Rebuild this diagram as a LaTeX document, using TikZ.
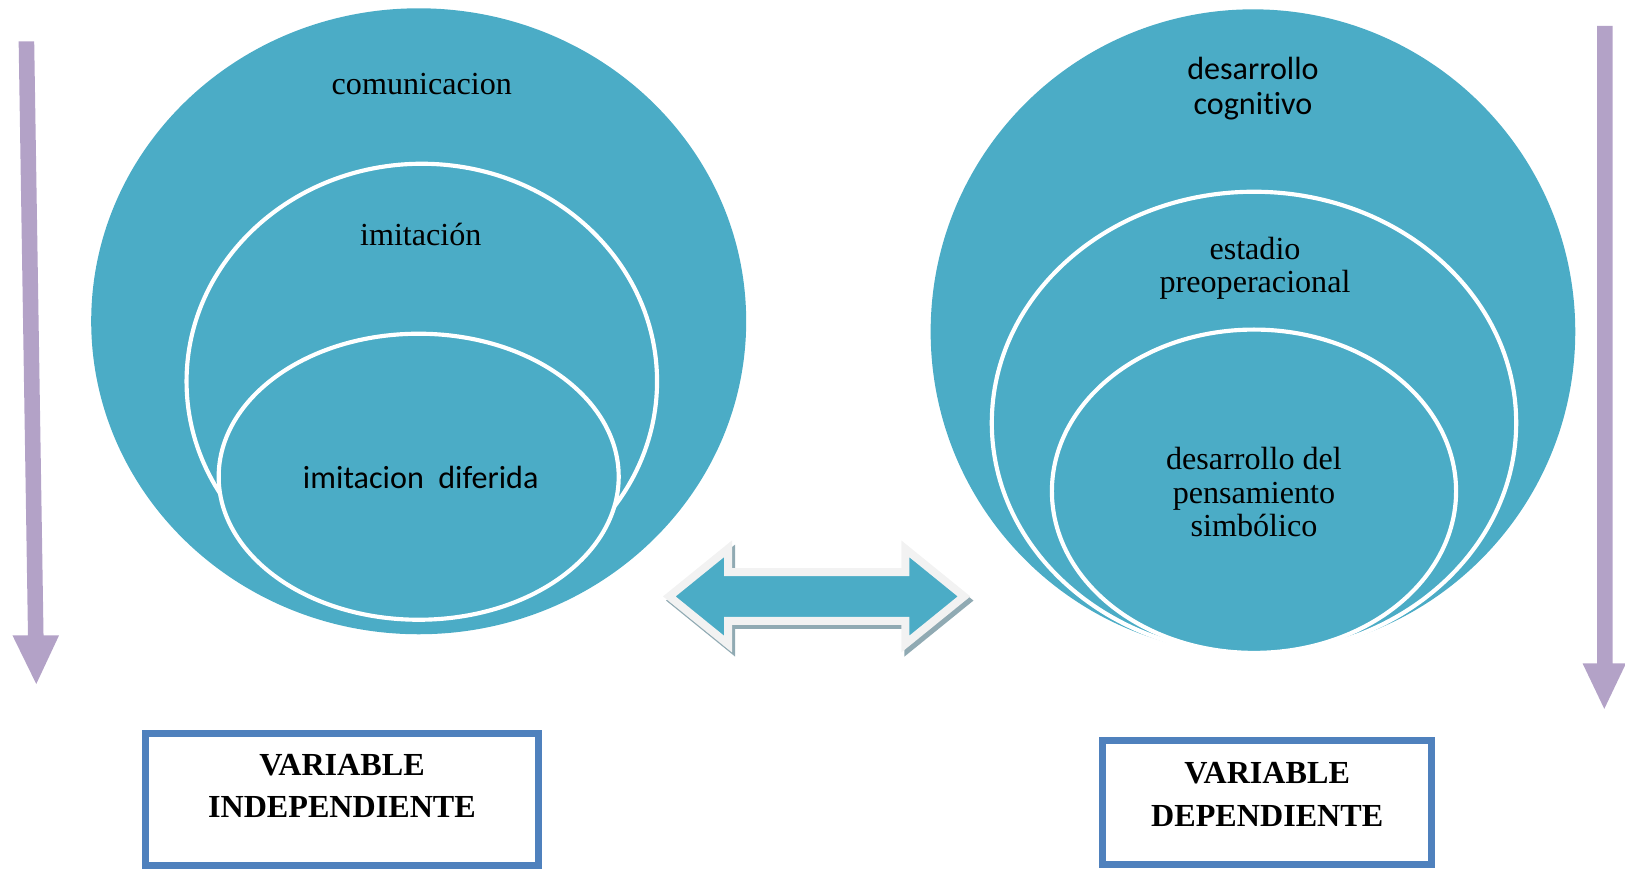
\documentclass[tikz,border=0pt]{standalone}
\usepackage{fontspec}
\setmainfont{Liberation Serif}
\newfontfamily\calibri[Ligatures=NoCommon]{Carlito}
\definecolor{tblue}{HTML}{4BACC6}
\definecolor{lav}{HTML}{B3A2C7}
\definecolor{boxblue}{HTML}{4F81BD}
\definecolor{arrline}{HTML}{F2F2F2}
\definecolor{arrshadow}{HTML}{90AAB3}
\begin{document}
\begin{tikzpicture}[x=0.5pt,y=-0.5pt,
  outerdisc/.style={fill=tblue},
  ring/.style={fill=tblue, draw=white, line width=2pt},
  lbl/.style={font=\fontsize{15.5}{16.25}\selectfont, align=center, inner sep=0pt, text=black},
  sanslbl/.style={font=\calibri\fontsize{15.5}{16.5}\selectfont, align=center, inner sep=0pt, text=black},
  varbox/.style={draw=boxblue, line width=3.25pt, fill=white},
  vartext/.style={font=\bfseries\fontsize{15.5}{20.5}\selectfont, align=center, inner sep=0pt},
  downarrow/.style={fill=lav},
  dblarrow/.style={fill=tblue, draw=arrline, line width=3.85pt, line join=miter},
  dblshadow/.style={fill=arrshadow, draw=arrshadow, line width=3.85pt, line join=miter}]
\useasboundingbox (0,0) rectangle (1568,841.4);

% left nested target
\path[outerdisc] (404,310) ellipse [x radius=316, y radius=302];
\path[ring] (407,368) ellipse [x radius=227, y radius=210];
\path[ring] (404,460) ellipse [x radius=193, y radius=138];

% right nested target
\path[outerdisc] (1209,320) ellipse [x radius=311, y radius=311];
\path[ring] (1210,408) ellipse [x radius=253, y radius=223];
\path[ring] (1210,474) ellipse [x radius=195, y radius=156];

% labels
\node[lbl] (com) at (407,81) {comunicacion};
\node[lbl] (imi) at (406,226) {imitación};
\node[sanslbl] (imd) at (406,461) {imitacion\ \ diferida};
\node[sanslbl] (dc) at (1209,85.5) {desarrollo\\cognitivo};
\node[lbl] (ep) at (1211,259) {estadio\\preoperacional};
\node[lbl] (dps) at (1210,475) {desarrollo del\\pensamiento\\simbólico};

% double arrow with shadow
\path[dblshadow, shift={(3,4)}] (645.8,575.5) -- (702.5,529.5) -- (702.5,552) -- (873.5,552) -- (873.5,529.5) -- (930.2,575.5) -- (873.5,621.5) -- (873.5,599) -- (702.5,599) -- (702.5,621.5) -- cycle;
\path[dblarrow] (645.8,575.5) -- (702.5,529.5) -- (702.5,552) -- (873.5,552) -- (873.5,529.5) -- (930.2,575.5) -- (873.5,621.5) -- (873.5,599) -- (702.5,599) -- (702.5,621.5) -- cycle;

% vertical arrows
\path[downarrow] (18,40) -- (33,40) -- (42,613) -- (57,613) -- (35,660) -- (12,613) -- (27,613) -- cycle;
\path[downarrow] (1541,25) -- (1556,25) -- (1556,640) -- (1569,640) -- (1548,684) -- (1527,640) -- (1541,640) -- cycle;

% variable boxes
\draw[varbox] (140.5,708) rectangle (519.5,835);
\node[vartext] (vi) at (330,758.5) {VARIABLE\\INDEPENDIENTE};
\draw[varbox] (1064,714.5) rectangle (1381.5,834.5);
\node[vartext] (vd) at (1222.75,766.5) {VARIABLE\\DEPENDIENTE};
\end{tikzpicture}
\end{document}
